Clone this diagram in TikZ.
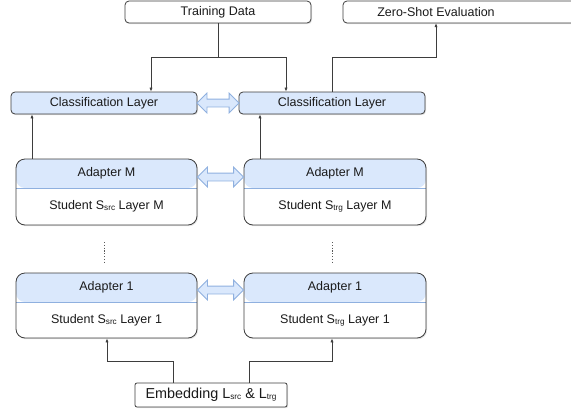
\documentclass[tikz,border=0pt]{standalone}
\usepackage{fontspec}
\setmainfont{Liberation Sans}
\usetikzlibrary{arrows.meta,shapes.arrows,shadows,calc}

\definecolor{bluefill}{HTML}{DAE8FC}
\definecolor{blueline}{HTML}{8FB0DF}
\definecolor{edgegrey}{HTML}{3D3D3D}
\definecolor{textgrey}{HTML}{1A1A1A}

% small, slightly lowered subscript as used in the labels
\newcommand\lsub[1]{\raisebox{-1.2pt}{\fontsize{8.2}{8.2}\selectfont #1}}

\tikzset{
  frame/.style={draw=edgegrey, line width=0.8pt, rounded corners=4pt,
    drop shadow={opacity=0.22, shadow xshift=1pt, shadow yshift=-1.2pt},
    inner sep=0pt, text=textgrey, font=\fontsize{12.5}{14}\selectfont},
  plainbox/.style={frame, fill=white},
  bluebox/.style={frame, fill=bluefill},
  layerbox/.style={frame, fill=white, rounded corners=9pt,
    path picture={
      \fill[bluefill] (path picture bounding box.north west) rectangle
        ([yshift=-29pt]path picture bounding box.north east);
      \draw[blueline, line width=0.8pt]
        ([yshift=-29pt]path picture bounding box.north west) --
        ([yshift=-29pt]path picture bounding box.north east);
    }},
  lbl/.style={inner sep=0pt, text=textgrey, font=\fontsize{12.5}{14}\selectfont},
  conn/.style={draw=edgegrey, line width=0.7pt,
    -{Latex[length=4pt,width=3.2pt]}},
  link/.style={double arrow, draw=blueline, fill=bluefill, line width=0.8pt,
    minimum height=42pt, minimum width=19pt, inner sep=3.5pt,
    double arrow head extend=6pt},
  dots/.style={draw=gray!70!black, line width=0.8pt, dash pattern=on 1.2pt off 1.6pt},
}

\begin{document}
\begin{tikzpicture}[x=1pt,y=-1pt]
\useasboundingbox (0,0) rectangle (571,413);
\clip (0,0) rectangle (571,413);

% top row
\node[plainbox, minimum width=186pt, minimum height=22pt] (train) at (218,12) {Training Data};
\draw[frame, fill=white] (343,1) rectangle (590,23);
\node[lbl, minimum height=22pt] (zs) at (436,12) {Zero-Shot Evaluation};

% classification layers
\node[bluebox, minimum width=186pt, minimum height=22pt] (clsL) at (104,103) {Classification Layer};
\node[bluebox, minimum width=186pt, minimum height=22pt] (clsR) at (332,103) {Classification Layer};
\node[link] (linkC) at ($(clsL.east)!0.5!(clsR.west)$) {};

% layer M
\node[layerbox, minimum width=181pt, minimum height=66pt] (srcM) at (106.5,192) {};
\node[layerbox, minimum width=182pt, minimum height=66pt] (trgM) at (335,192) {};
\node[lbl] (srcMa) at (106.5,173.5) {Adapter M};
\node[lbl] (srcMs) at (106.5,206.5) {Student S\lsub{src} Layer M};
\node[lbl] (trgMa) at (335,173.5) {Adapter M};
\node[lbl] (trgMs) at (335,206.5) {Student S\lsub{trg} Layer M};
\node[link, minimum height=46pt] (linkM) at ($(srcM.east)!0.5!(trgM.west)+(0,-15)$) {};

% vertical ellipsis between layers
\coordinate (dLa) at (104,242); \coordinate (dLb) at (104,262);
\coordinate (dRa) at (332,242); \coordinate (dRb) at (332,262);
\draw[dots] (dLa) -- (dLb);
\draw[dots] (dRa) -- (dRb);

% layer 1
\node[layerbox, minimum width=181pt, minimum height=65pt] (src1) at (106.5,305.5) {};
\node[layerbox, minimum width=182pt, minimum height=65pt] (trg1) at (335,305.5) {};
\node[lbl] (src1a) at (106.5,287.5) {Adapter 1};
\node[lbl] (src1s) at (106.5,320) {Student S\lsub{src} Layer 1};
\node[lbl] (trg1a) at (335,287.5) {Adapter 1};
\node[lbl] (trg1s) at (335,320) {Student S\lsub{trg} Layer 1};
\node[link, minimum height=46pt] (link1) at ($(src1.east)!0.5!(trg1.west)+(0,-15.5)$) {};

% embedding
\node[plainbox, minimum width=152pt, minimum height=24pt, rounded corners=2pt,
  font=\fontsize{14.4}{16}\selectfont] (emb) at (211,395) {Embedding L\lsub{src} \& L\lsub{trg}};

% connectors
\coordinate (tsplit) at (218,57);
\draw[conn] (train.south) -- (tsplit) -| ([xshift=47pt]clsL.north);
\draw[conn] (tsplit) -| ([xshift=-46pt]clsR.north);
\coordinate (zsplit) at (436,57);
\draw[conn] (clsR.north) |- (zsplit) -- (zs.south);

\draw[conn] ([xshift=-72pt]clsL.south |- srcM.north) -- ([xshift=-72pt]clsL.south);
\draw[conn] ([xshift=-72pt]clsR.south |- trgM.north) -- ([xshift=-72pt]clsR.south);

\coordinate (ejL) at (107,361);
\coordinate (ejR) at (332,361);
\draw[conn] ([xshift=-38pt]emb.north) |- (ejL) -- (ejL |- src1.south);
\draw[conn] ([xshift=38pt]emb.north) |- (ejR) -- (ejR |- trg1.south);
\end{tikzpicture}
\end{document}
